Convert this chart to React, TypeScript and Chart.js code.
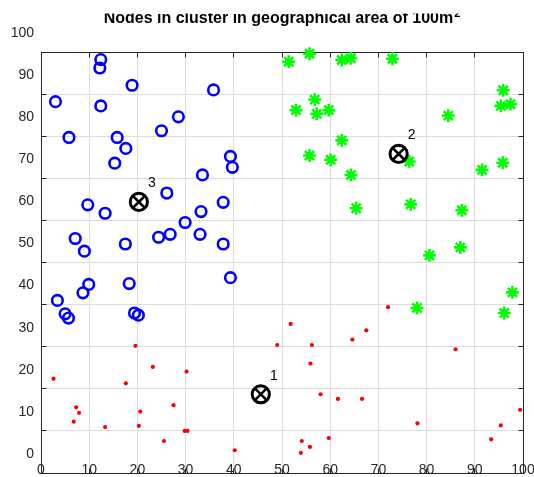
import React, { useEffect, useRef } from "react";
import { Chart, registerables } from "chart.js";

Chart.register(...registerables);

const TITLE = "Nodes in cluster in geographical area of 100m";
const TITLE_SUP = "2";

const AXIS_TICKS = [0, 10, 20, 30, 40, 50, 60, 70, 80, 90, 100];

// cluster 1 (red dots)
const cluster1X = [2.6, 19.6, 23.2, 30.2, 17.6, 7.3, 7.9, 6.8, 20.6, 27.5, 13.3, 20.3, 29.8, 30.4, 25.5, 40.2, 49.0, 51.8, 56.2, 55.9, 64.6, 67.5, 72.0, 58.0, 61.6, 66.6, 54.1, 55.8, 53.9, 59.7, 78.1, 86.0, 93.4, 95.4, 99.4];
const cluster1Y = [22.4, 30.2, 25.2, 24.1, 21.3, 15.6, 14.3, 12.2, 14.6, 16.1, 10.9, 11.2, 10.0, 10.0, 7.6, 5.4, 30.4, 35.4, 30.4, 26.0, 31.7, 33.9, 39.4, 18.7, 17.6, 17.6, 7.6, 6.2, 4.8, 8.3, 11.8, 29.4, 8.0, 11.3, 15.0];

// cluster 2 (green asterisks)
const cluster2X = [51.4, 55.7, 62.4, 64.3, 72.9, 56.8, 52.9, 57.2, 59.7, 84.5, 95.9, 95.4, 97.4, 62.4, 55.7, 60.1, 64.3, 76.4, 91.5, 95.8, 65.4, 76.7, 87.3, 80.6, 87.0, 97.8, 78.0, 96.1];
const cluster2Y = [97.7, 99.6, 98.1, 98.5, 98.4, 88.7, 86.2, 85.3, 86.2, 84.9, 90.9, 87.2, 87.6, 79.0, 75.4, 74.4, 70.8, 74.0, 72.0, 73.7, 62.9, 63.8, 62.4, 51.7, 53.6, 42.9, 39.2, 38.0];

// cluster 3 (blue circles)
const cluster3X = [3.0, 12.4, 12.2, 18.9, 12.4, 35.8, 28.5, 25.0, 5.8, 15.8, 17.6, 39.3, 39.7, 15.3, 33.5, 26.1, 9.7, 13.3, 37.8, 33.2, 29.9, 7.1, 9.0, 17.5, 24.4, 26.8, 33.0, 37.8, 39.3, 9.9, 8.7, 18.3, 3.4, 5.0, 5.7, 19.4, 20.2];
const cluster3Y = [88.2, 98.2, 96.2, 92.1, 87.2, 91.0, 84.6, 81.3, 79.7, 79.7, 77.1, 75.2, 72.6, 73.6, 70.8, 66.5, 63.7, 61.7, 64.3, 62.1, 59.5, 55.7, 52.7, 54.4, 56.0, 56.7, 56.7, 54.4, 46.4, 44.8, 42.8, 45.0, 41.0, 37.8, 36.8, 38.0, 37.5];

// cluster heads
const centroidX = [45.6, 74.2, 20.3];
const centroidY = [18.7, 75.8, 64.4];
const centroidLabels = ["1", "2", "3"];

const FONT = 'Arial, "Liberation Sans", Helvetica, sans-serif';
const AXIS_COLOR = "#262626";
const GRID_COLOR = "#dcdcdc";

const toPoints = (xs: number[], ys: number[]) => xs.map((x, i) => ({ x, y: ys[i] }));

const align = (p: number) => Math.round(p - 0.5) + 0.5;

// top/right box edges plus inward tick marks on all four sides
const framePlugin = {
  id: "frame",
  beforeDatasetsDraw(chart: any) {
    const { ctx, chartArea, scales } = chart;
    const { left, right, top, bottom } = chartArea;
    const L = align(left), R = align(right), T = align(top), B = align(bottom);
    ctx.save();
    ctx.strokeStyle = AXIS_COLOR;
    ctx.lineWidth = 1;
    ctx.beginPath();
    ctx.moveTo(L, T);
    ctx.lineTo(R, T);
    ctx.lineTo(R, B);
    const len = 5;
    for (const v of AXIS_TICKS) {
      const px = align(scales.x.getPixelForValue(v));
      ctx.moveTo(px, B);
      ctx.lineTo(px, B - len);
      ctx.moveTo(px, T);
      ctx.lineTo(px, T + len);
      const py = align(scales.y.getPixelForValue(v));
      ctx.moveTo(L, py);
      ctx.lineTo(L + len, py);
      ctx.moveTo(R, py);
      ctx.lineTo(R - len, py);
    }
    ctx.stroke();
    ctx.restore();
  },
};

// numbers beside each cluster head
const centroidLabelPlugin = {
  id: "centroidLabels",
  afterDatasetsDraw(chart: any) {
    const { ctx, scales } = chart;
    ctx.save();
    ctx.fillStyle = "#000";
    ctx.font = `14px ${FONT}`;
    ctx.textAlign = "center";
    ctx.textBaseline = "middle";
    centroidLabels.forEach((t, i) => {
      const px = scales.x.getPixelForValue(centroidX[i]);
      const py = scales.y.getPixelForValue(centroidY[i]);
      ctx.fillText(t, px + 13, py - 18.5);
    });
    ctx.restore();
  },
};

// bold title with superscript, trimmed along its top edge
const titlePlugin = {
  id: "plotTitle",
  afterDraw(chart: any) {
    const { ctx, chartArea } = chart;
    const cx = (chartArea.left + chartArea.right) / 2;
    const baseline = 23;
    ctx.save();
    ctx.beginPath();
    ctx.rect(0, 13.5, chart.width, 40);
    ctx.clip();
    ctx.fillStyle = "#000";
    ctx.textBaseline = "alphabetic";
    ctx.textAlign = "left";
    ctx.font = `bold 16px ${FONT}`;
    const w1 = ctx.measureText(TITLE).width;
    ctx.font = `bold 11px ${FONT}`;
    const w2 = ctx.measureText(TITLE_SUP).width;
    const x0 = cx - (w1 + w2 + 1) / 2;
    ctx.font = `bold 16px ${FONT}`;
    ctx.fillText(TITLE, x0, baseline);
    ctx.font = `bold 11px ${FONT}`;
    ctx.fillText(TITLE_SUP, x0 + w1 + 1, baseline - 6);
    ctx.restore();
  },
};

function ClusterChart() {
  const canvasRef = useRef<HTMLCanvasElement | null>(null);

  useEffect(() => {
    const canvas = canvasRef.current;
    if (!canvas) return;

    const chart = new Chart(canvas, {
      type: "scatter",
      data: {
        datasets: [
          {
            label: "cluster 1",
            data: toPoints(cluster1X, cluster1Y),
            pointStyle: "circle",
            pointRadius: 2.1,
            pointBorderWidth: 0,
            backgroundColor: "#ff0000",
            borderColor: "#ff0000",
            order: 5,
            clip: false,
          },
          {
            label: "cluster 2",
            data: toPoints(cluster2X, cluster2Y),
            pointStyle: "star",
            pointRadius: 6.4,
            pointBorderWidth: 2.6,
            borderColor: "#00ff00",
            backgroundColor: "#00ff00",
            order: 4,
            clip: false,
          },
          {
            label: "cluster 3",
            data: toPoints(cluster3X, cluster3Y),
            pointStyle: "circle",
            pointRadius: 5.3,
            pointBorderWidth: 2.6,
            borderColor: "#0000ff",
            backgroundColor: "rgba(0,0,0,0)",
            order: 3,
            clip: false,
          },
          {
            label: "heads",
            data: toPoints(centroidX, centroidY),
            pointStyle: "circle",
            pointRadius: 8.6,
            pointBorderWidth: 3,
            borderColor: "#000",
            backgroundColor: "rgba(0,0,0,0)",
            order: 2,
            clip: false,
          },
          {
            label: "heads x",
            data: toPoints(centroidX, centroidY),
            pointStyle: "crossRot",
            pointRadius: 8.6,
            pointBorderWidth: 2.6,
            borderColor: "#000",
            backgroundColor: "#000",
            order: 1,
            clip: false,
          },
        ],
      },
      options: {
        responsive: false,
        animation: false,
        events: [],
        layout: {
          autoPadding: false,
          padding: { top: 52, right: 11, bottom: 0, left: 0 },
        },
        plugins: {
          legend: { display: false },
          tooltip: { enabled: false },
          title: { display: false },
        },
        scales: {
          x: {
            type: "linear",
            min: 0,
            max: 100,
            afterBuildTicks: (scale: any) => {
              scale.ticks = AXIS_TICKS.map((v) => ({ value: v }));
            },
            afterFit: (scale: any) => {
              scale.height = 4;
              scale.paddingLeft = 0;
              scale.paddingRight = 0;
            },
            grid: { color: GRID_COLOR, lineWidth: 1, drawTicks: false },
            border: { display: true, color: AXIS_COLOR, width: 1 },
            ticks: {
              autoSkip: false,
              maxRotation: 0,
              mirror: true,
              padding: -5.5,
              color: AXIS_COLOR,
              font: { family: FONT, size: 14 },
            },
          },
          y: {
            type: "linear",
            min: 0,
            max: 100,
            afterBuildTicks: (scale: any) => {
              scale.ticks = AXIS_TICKS.map((v) => ({ value: v }));
            },
            afterFit: (scale: any) => {
              scale.width = 41;
              scale.paddingTop = 0;
              scale.paddingBottom = 0;
            },
            grid: { color: GRID_COLOR, lineWidth: 1, drawTicks: false },
            border: { display: true, color: AXIS_COLOR, width: 1 },
            ticks: {
              autoSkip: false,
              padding: 7,
              labelOffset: -19,
              color: AXIS_COLOR,
              font: { family: FONT, size: 14 },
            },
          },
        },
      },
      plugins: [framePlugin, centroidLabelPlugin, titlePlugin],
    } as any);

    return () => chart.destroy();
  }, []);

  return <canvas ref={canvasRef} width={534} height={477} style={{ display: "block" }} />;
}

export default function App() {
  return (
    <div
      style={{
        position: "absolute",
        left: 0,
        top: 0,
        width: 534,
        height: 477,
        overflow: "hidden",
        background: "#ffffff",
      }}
    >
      <ClusterChart />
    </div>
  );
}
